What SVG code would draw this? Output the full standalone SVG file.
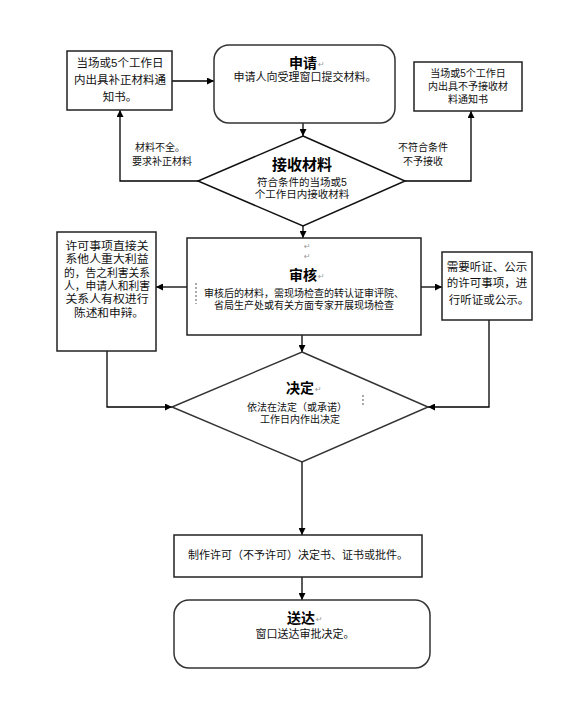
<svg xmlns="http://www.w3.org/2000/svg" width="587" height="720" viewBox="0 0 587 720">
<defs>
<marker id="arr" viewBox="0 0 10 10" refX="10" refY="5" markerWidth="7" markerHeight="7" orient="auto" markerUnits="userSpaceOnUse">
<path d="M0,0 L10,5 L0,10 z" fill="#000"/>
</marker>
<style>
.box{fill:#fff;stroke:#222;stroke-width:1.5}
.rbox{fill:#fff;stroke:#333;stroke-width:1.5}
.con{fill:none;stroke:#000;stroke-width:1.3}
text{font-family:"Liberation Sans","Noto Sans CJK SC",sans-serif;fill:#111;text-anchor:middle}
.t{font-family:"Noto Sans CJK SC",sans-serif;font-weight:bold;font-size:14px;fill:#000}
.s{font-size:11px}
.ret{font-family:"DejaVu Sans",sans-serif;font-size:8px;fill:#999;text-anchor:start}
.mark{stroke:#555;stroke-width:1;stroke-dasharray:2,2}
.lb{font-size:11px}
</style>
</defs>
<rect width="587" height="720" fill="#fff"/>

<g id="connectors">
<path class="con" d="M172,81 H214" marker-end="url(#arr)"/>
<path class="con" d="M303,123 V136" marker-end="url(#arr)"/>
<path class="con" d="M198,181 H120 V110" marker-end="url(#arr)"/>
<path class="con" d="M405,181 H471 V111" marker-end="url(#arr)"/>
<path class="con" d="M303,226 V238" marker-end="url(#arr)"/>
<path class="con" d="M187,287 H156" marker-end="url(#arr)"/>
<path class="con" d="M421,287 H442" marker-end="url(#arr)"/>
<path class="con" d="M302,335 V352" marker-end="url(#arr)"/>
<path class="con" d="M107,351 V407 H172" marker-end="url(#arr)"/>
<path class="con" d="M489,320 V407 H428" marker-end="url(#arr)"/>
<path class="con" d="M302,462 V535" marker-end="url(#arr)"/>
<path class="con" d="M302,577 V600" marker-end="url(#arr)"/>
<text x="160" y="151" style="font-size:10px">材料不全。</text>
<text x="162" y="165" style="font-size:10px">要求补正材料</text>
<text x="423" y="151" style="font-size:10px">不符合条件</text>
<text x="423" y="165" style="font-size:10px">不予接收</text>
</g>

<g id="node-notice-supplement">
<rect class="box" x="67" y="51" width="105" height="59"/>
<text x="120" y="67" style="font-size:11.5px">当场或5个工作日</text>
<text x="120" y="84" style="font-size:11.5px">内出具补正材料通</text>
<text x="120" y="101" style="font-size:11.5px">知书。</text>
</g>

<g id="node-apply">
<rect class="rbox" x="214" y="45" width="181" height="78" rx="15"/>
<text class="t" x="303" y="68">申请</text>
<text class="ret" x="318" y="67">↵</text>
<text class="s" x="305" y="81">申请人向受理窗口提交材料。</text>
</g>

<g id="node-notice-reject">
<rect class="box" x="414" y="62" width="108" height="49"/>
<text x="468" y="77" style="font-size:10px">当场或5个工作日</text>
<text x="468" y="90" style="font-size:10px">内出具不予接收材</text>
<text x="468" y="103" style="font-size:10px">料通知书</text>
</g>

<g id="node-receive">
<path class="box" d="M303,136 L405,181 L303,226 L198,181 Z" style="stroke:#111"/>
<text class="t" x="302" y="170" style="font-size:15px">接收材料</text>
<text x="302" y="186" style="font-size:10.5px">符合条件的当场或5</text>
<text x="302" y="198" style="font-size:10.5px">个工作日内接收材料</text>
</g>

<g id="node-review">
<rect class="box" x="187" y="238" width="234" height="97"/>
<text class="ret" x="304" y="249">↵</text>
<text class="ret" x="304" y="259">↵</text>
<text class="t" x="303" y="280">审核</text>
<text class="ret" x="318" y="279">↵</text>
<line class="mark" x1="196" y1="283" x2="196" y2="304"/>
<text x="304" y="297" style="font-size:10px">审核后的材料，需现场检查的转认证审评院、</text>
<text x="304" y="309" style="font-size:10px">省局生产处或有关方面专家开展现场检查</text>
</g>

<g id="node-interested">
<rect class="box" x="57" y="232" width="99" height="119"/>
<text class="lb" x="107" y="250" textLength="83" lengthAdjust="spacingAndGlyphs">许可事项直接关</text>
<text class="lb" x="107" y="263" textLength="83" lengthAdjust="spacingAndGlyphs">系他人重大利益</text>
<text class="lb" x="107" y="277" textLength="86" lengthAdjust="spacingAndGlyphs">的，告之利害关系</text>
<text class="lb" x="107" y="290" textLength="86" lengthAdjust="spacingAndGlyphs">人，申请人和利害</text>
<text class="lb" x="107" y="303" textLength="83" lengthAdjust="spacingAndGlyphs">关系人有权进行</text>
<text class="lb" x="109" y="317" textLength="70" lengthAdjust="spacingAndGlyphs">陈述和申辩。</text>
</g>

<g id="node-hearing">
<rect class="box" x="442" y="252" width="90" height="68"/>
<text x="487" y="271" style="font-size:11.5px">需要听证、公示</text>
<text x="487" y="287" style="font-size:11.5px">的许可事项，进</text>
<text x="489" y="304" style="font-size:11.5px">行听证或公示。</text>
</g>

<g id="node-decide">
<path class="box" d="M302,352 L428,407 L302,462 L172,407 Z" style="stroke:#333"/>
<text class="t" x="300" y="393">决定</text>
<text class="ret" x="315" y="392">↵</text>
<line class="mark" x1="363" y1="395" x2="363" y2="405"/>
<text x="297" y="411" style="font-size:10px">依法在法定（或承诺）</text>
<text x="300" y="423" style="font-size:10px">工作日内作出决定</text>
</g>

<g id="node-make">
<rect class="box" x="174" y="535" width="248" height="42"/>
<text class="s" x="298" y="559">制作许可（不予许可）决定书、证书或批件。</text>
</g>

<g id="node-deliver">
<rect class="rbox" x="174" y="600" width="256" height="68" rx="15"/>
<text class="t" x="301" y="623">送达</text>
<text class="ret" x="316" y="622">↵</text>
<text class="s" x="305" y="638">窗口送达审批决定。</text>
</g>
</svg>
